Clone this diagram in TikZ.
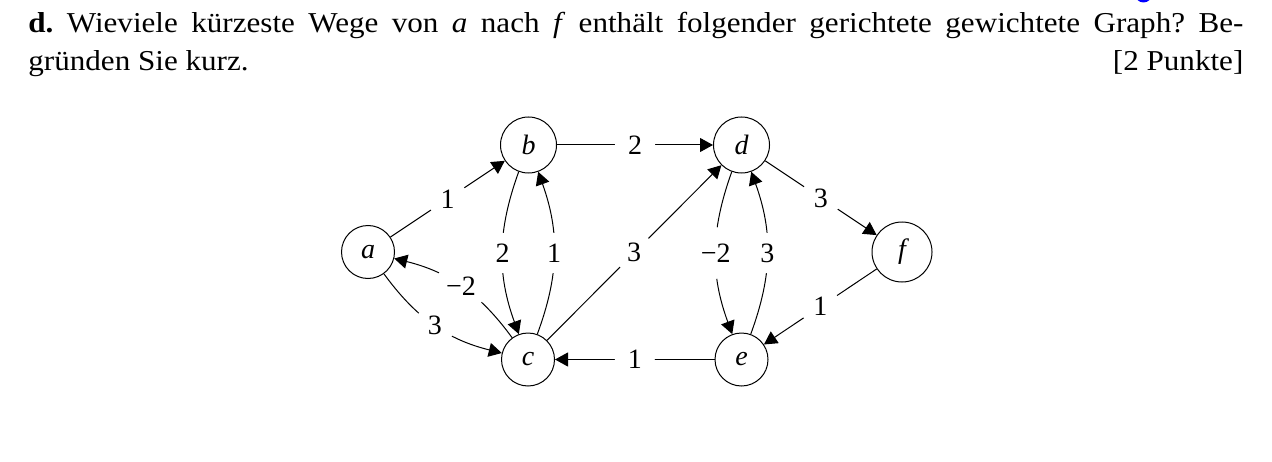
\documentclass[tikz,border=0pt]{standalone}
\usepackage{fontspec}
\setmainfont{Liberation Serif}
\usetikzlibrary{arrows.meta}
\frenchspacing
\begin{document}
\begin{tikzpicture}[x=0.5pt,y=0.5pt,
  vtx/.style={draw,circle,line width=0.5pt,inner sep=0pt,font=\fontsize{14}{16}\selectfont\itshape},
  edge/.style={line width=0.5pt,-{Triangle[length=6.5pt,width=7pt]}},
  lbl/.style={fill=white,circle,inner sep=3pt,font=\fontsize{14}{16}\selectfont},
  txt/.style={anchor=base west,inner sep=0pt,font=\fontsize{14.4}{16}\selectfont}]
\useasboundingbox (0,0) rectangle (1272,461);
\begin{scope}
\clip (0,0) rectangle (1272,461);
\fill[blue] (1143.5,467) circle (8.5);
\end{scope}
\node[txt] (l1) at (28,428) {\scalebox{1.08}[1]{\makebox[562.5pt][s]{\textbf{d.} Wieviele kürzeste Wege von \textit{a} nach \textit{f} enthält folgender gerichtete gewichtete Graph? Be-}}};
\node[txt] (l2) at (28,390) {\scalebox{1.08}[1]{\makebox[562.5pt][l]{gründen Sie kurz.\hfill[2 Punkte]}}};
\node[vtx,minimum size=26.5pt] (a) at (368,209) {a};
\node[vtx,minimum size=28pt] (b) at (528.5,316) {b};
\node[vtx,minimum size=26.5pt] (c) at (528,101.5) {c};
\node[vtx,minimum size=28pt] (d) at (741.5,316) {d};
\node[vtx,minimum size=26.5pt] (e) at (741.5,101.5) {e};
\node[vtx,minimum size=30pt] (f) at (902,209) {f};
\draw[edge] (a) -- node[lbl]{1} (b);
\draw[edge] (a) to[bend right=20] node[lbl]{3} (c);
\draw[edge] (c) to[bend right=20] node[lbl]{−2} (a);
\draw[edge] (b) to[bend right=20] node[lbl]{2} (c);
\draw[edge] (c) to[bend right=20] node[lbl]{1} (b);
\draw[edge] (b) -- node[lbl]{2} (d);
\draw[edge] (c) -- node[lbl]{3} (d);
\draw[edge] (e) -- node[lbl]{1} (c);
\draw[edge] (d) to[bend right=20] node[lbl]{−2} (e);
\draw[edge] (e) to[bend right=20] node[lbl]{3} (d);
\draw[edge] (d) -- node[lbl]{3} (f);
\draw[edge] (f) -- node[lbl]{1} (e);
\end{tikzpicture}
\end{document}
